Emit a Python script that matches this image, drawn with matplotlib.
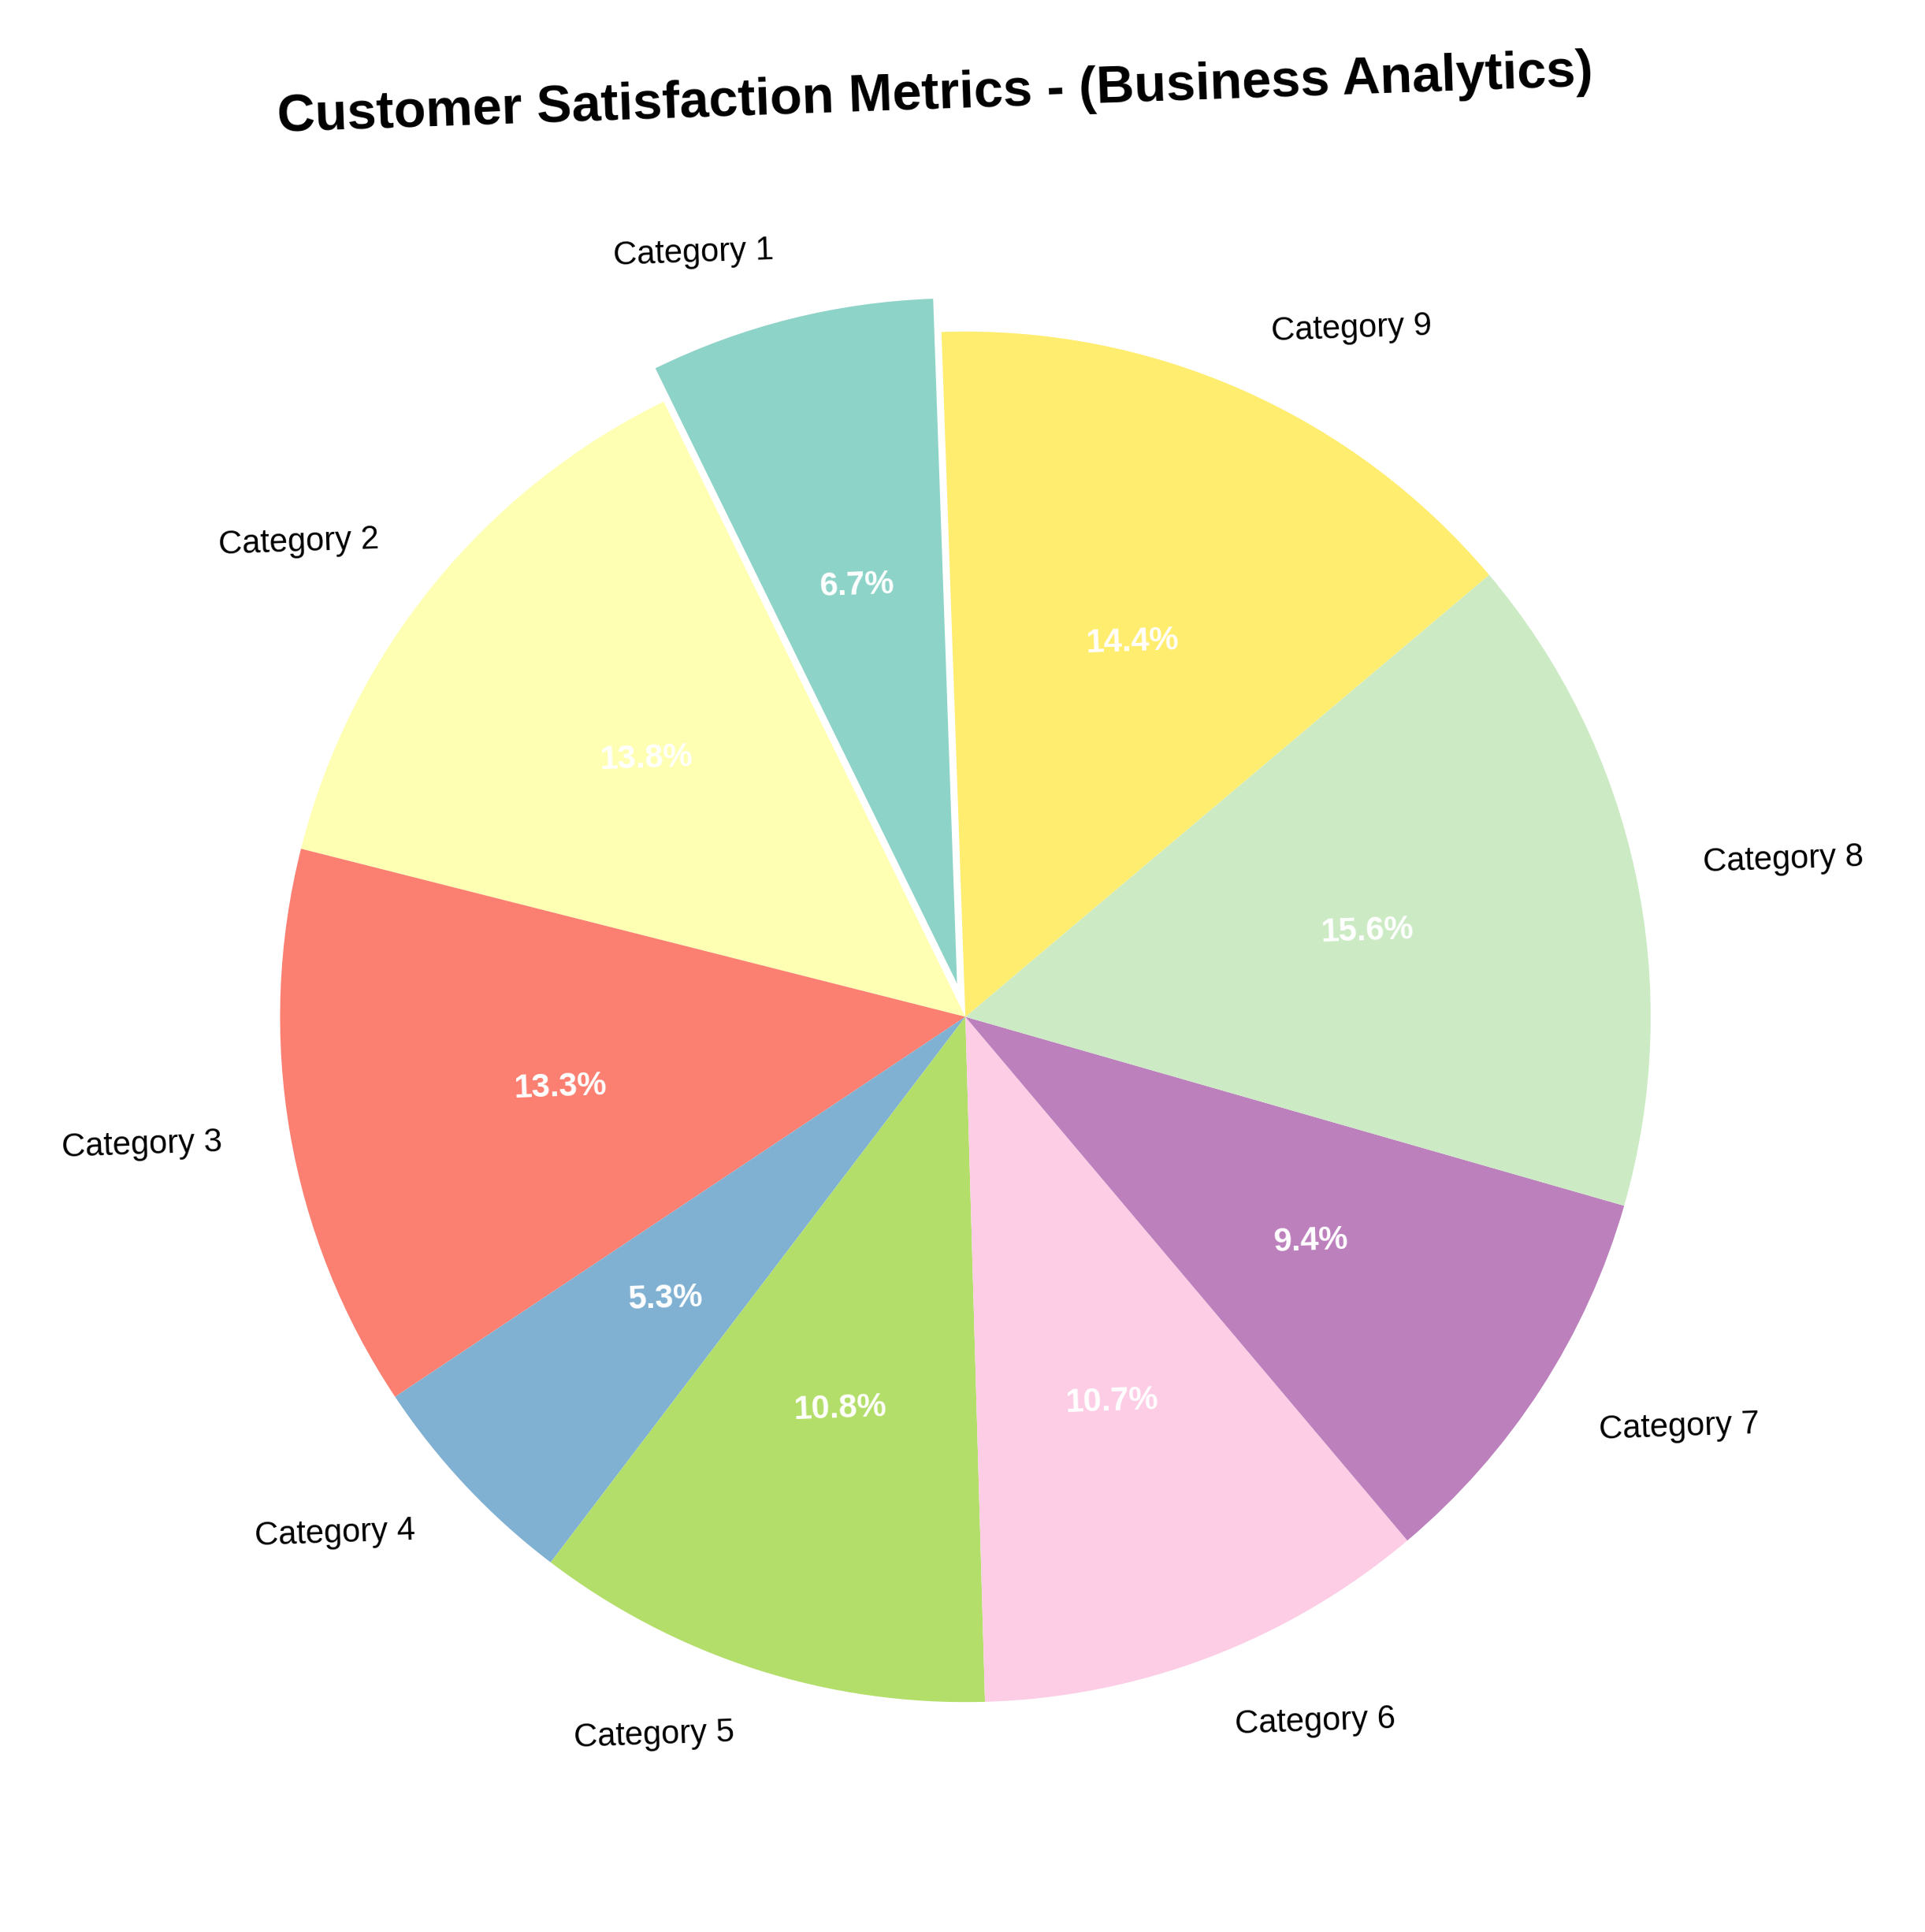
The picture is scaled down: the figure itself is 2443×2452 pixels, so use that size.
import numpy as np
import matplotlib
matplotlib.use('Agg')
import matplotlib.pyplot as plt

plt.rcParams['font.family'] = ['Liberation Sans', 'DejaVu Sans']

categories = ['Category 1', 'Category 2', 'Category 3', 'Category 4', 'Category 5',
              'Category 6', 'Category 7', 'Category 8', 'Category 9']
shares = [6.7, 13.8, 13.3, 5.3, 10.8, 10.7, 9.4, 15.6, 14.4]
explode = [0.05, 0, 0, 0, 0, 0, 0, 0, 0]

colors = plt.cm.Set3(np.linspace(0, 1, len(categories)))

fig = plt.figure(figsize=(2443 / 300, 2453 / 300), dpi=300)
ax = fig.add_axes([0.0565, 0.030, 0.890, 0.887])

# the reference looks turned ~2 degrees, so tilt start and texts
tilt = 2
wedges, texts, autotexts = ax.pie(
    shares, labels=categories, colors=colors, explode=explode,
    autopct='%1.1f%%', startangle=90 + tilt, pctdistance=0.6, labeldistance=1.1,
    textprops={'fontsize': 10, 'rotation': tilt})

for t in autotexts:
    t.set_color('white')
    t.set_fontweight('bold')
    t.set_fontsize(10)

ax.set_aspect('equal')
ax.set_title('Customer Satisfaction Metrics - (Business Analytics)',
             fontsize=16, fontweight='bold', pad=9, rotation=tilt, x=0.4825)

fig.savefig('out.png', dpi=300)
